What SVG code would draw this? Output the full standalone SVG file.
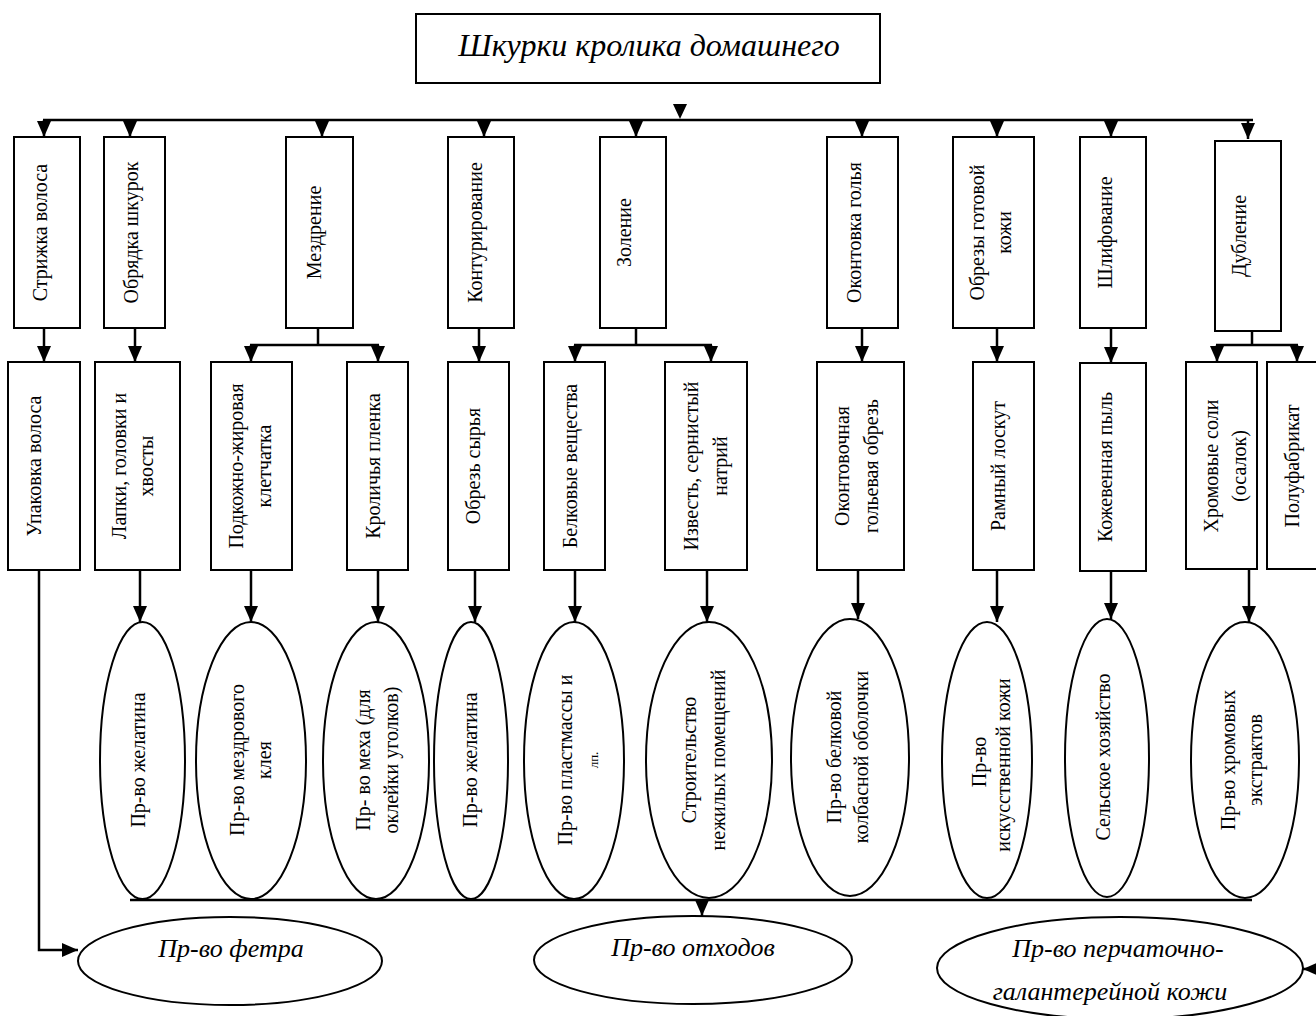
<svg xmlns="http://www.w3.org/2000/svg" width="1316" height="1016" viewBox="0 0 1316 1016">
<style>
text{font-family:"Liberation Serif","Times New Roman",serif;fill:#000}
.v{font-size:20px;text-anchor:middle}
.it{font-style:italic;text-anchor:middle}
.box{fill:#fff;stroke:#000;stroke-width:2}
.ell{fill:#fff;stroke:#000;stroke-width:2}
.ln{fill:none;stroke:#000;stroke-width:2.5}
.ar{fill:none;stroke:#000;stroke-width:2.5;marker-end:url(#ah)}
</style>
<defs>
<marker id="ah" viewBox="0 0 16 14" refX="16" refY="7" markerWidth="16" markerHeight="14" markerUnits="userSpaceOnUse" orient="auto">
<path d="M0,0 L16,7 L0,14 z" fill="#000"/>
</marker>
</defs>
<rect width="1316" height="1016" fill="#fff"/>

<g id="connectors">
<polygon points="673,104 687,104 680,119" fill="#000"/>
<line class="ln" x1="43" y1="120" x2="1253" y2="120"/>
<line class="ar" x1="44" y1="120" x2="44" y2="137"/>
<line class="ar" x1="130" y1="120" x2="130" y2="137"/>
<line class="ar" x1="322" y1="120" x2="322" y2="137"/>
<line class="ar" x1="484" y1="120" x2="484" y2="137"/>
<line class="ar" x1="636" y1="120" x2="636" y2="137"/>
<line class="ar" x1="862" y1="120" x2="862" y2="137"/>
<line class="ar" x1="997" y1="120" x2="997" y2="137"/>
<line class="ar" x1="1111" y1="120" x2="1111" y2="137"/>
<line class="ar" x1="1248" y1="120" x2="1248" y2="139"/>

<line class="ar" x1="44" y1="328" x2="44" y2="362"/>
<line class="ar" x1="135" y1="328" x2="135" y2="362"/>
<line class="ln" x1="318" y1="328" x2="318" y2="345"/>
<line class="ln" x1="250" y1="345" x2="379" y2="345"/>
<line class="ar" x1="251" y1="345" x2="251" y2="362"/>
<line class="ar" x1="378" y1="345" x2="378" y2="362"/>
<line class="ar" x1="479" y1="328" x2="479" y2="362"/>
<line class="ln" x1="636" y1="328" x2="636" y2="345"/>
<line class="ln" x1="574" y1="345" x2="712" y2="345"/>
<line class="ar" x1="575" y1="345" x2="575" y2="362"/>
<line class="ar" x1="711" y1="345" x2="711" y2="362"/>
<line class="ar" x1="862" y1="328" x2="862" y2="362"/>
<line class="ar" x1="997" y1="328" x2="997" y2="362"/>
<line class="ar" x1="1111" y1="328" x2="1111" y2="363"/>
<line class="ln" x1="1252" y1="331" x2="1252" y2="345"/>
<line class="ln" x1="1216" y1="345" x2="1298" y2="345"/>
<line class="ar" x1="1217" y1="345" x2="1217" y2="362"/>
<line class="ar" x1="1297" y1="345" x2="1297" y2="362"/>

<polyline class="ar" points="39,570 39,950 78,950"/>
<line class="ar" x1="140" y1="570" x2="140" y2="622"/>
<line class="ar" x1="251" y1="570" x2="251" y2="622"/>
<line class="ar" x1="378" y1="570" x2="378" y2="622"/>
<line class="ar" x1="475" y1="570" x2="475" y2="622"/>
<line class="ar" x1="575" y1="570" x2="575" y2="622"/>
<line class="ar" x1="707" y1="570" x2="707" y2="622"/>
<line class="ar" x1="858" y1="570" x2="858" y2="619"/>
<line class="ar" x1="997" y1="570" x2="997" y2="622"/>
<line class="ar" x1="1111" y1="571" x2="1111" y2="619"/>
<line class="ar" x1="1249" y1="567" x2="1249" y2="622"/>

<line class="ln" x1="130" y1="900" x2="1252" y2="900"/>
<line class="ar" x1="702" y1="900" x2="702" y2="916"/>
<line class="ar" x1="1322" y1="969" x2="1303" y2="969"/>
</g>

<g id="n-title">
<rect class="box" x="416" y="14" width="464" height="69"/>
<text class="it" x="649" y="56" font-size="32">Шкурки кролика домашнего</text>
</g>

<g id="n-strizhka"><rect class="box" x="14" y="137" width="66" height="191"/>
<text class="v" transform="translate(47,232.5) rotate(-90)">Стрижка волоса</text></g>
<g id="n-obryadka"><rect class="box" x="104" y="137" width="61" height="191"/>
<text class="v" transform="translate(138,232.5) rotate(-90)">Обрядка шкурок</text></g>
<g id="n-mezdrenie"><rect class="box" x="286" y="137" width="67" height="191"/>
<text class="v" transform="translate(321,232.5) rotate(-90)">Мездрение</text></g>
<g id="n-kontur"><rect class="box" x="448" y="137" width="66" height="191"/>
<text class="v" transform="translate(482,232.5) rotate(-90)">Контурирование</text></g>
<g id="n-zolenie"><rect class="box" x="600" y="137" width="66" height="191"/>
<text class="v" transform="translate(631,232.5) rotate(-90)">Золение</text></g>
<g id="n-okontovka"><rect class="box" x="827" y="137" width="71" height="191"/>
<text class="v" transform="translate(861,232.5) rotate(-90)">Оконтовка голья</text></g>
<g id="n-obrezy"><rect class="box" x="953" y="137" width="81" height="191"/>
<text class="v" transform="translate(984,232.5) rotate(-90)"><tspan x="0" y="0">Обрезы готовой</tspan><tspan x="0" y="27">кожи</tspan></text></g>
<g id="n-shlif"><rect class="box" x="1080" y="137" width="66" height="191"/>
<text class="v" transform="translate(1112,232.5) rotate(-90)">Шлифование</text></g>
<g id="n-dublenie"><rect class="box" x="1215" y="141" width="66" height="190"/>
<text class="v" transform="translate(1246,236) rotate(-90)">Дубление</text></g>

<g id="n-upakovka"><rect class="box" x="8" y="362" width="72" height="208"/>
<text class="v" transform="translate(41,466) rotate(-90)">Упаковка волоса</text></g>
<g id="n-lapki"><rect class="box" x="95" y="362" width="85" height="208"/>
<text class="v" transform="translate(126,466) rotate(-90)"><tspan x="0" y="0">Лапки, головки и</tspan><tspan x="0" y="27">хвосты</tspan></text></g>
<g id="n-podkozh"><rect class="box" x="211" y="362" width="81" height="208"/>
<text class="v" transform="translate(243,466) rotate(-90)"><tspan x="0" y="0">Подкожно-жировая</tspan><tspan x="0" y="28">клетчатка</tspan></text></g>
<g id="n-krol"><rect class="box" x="347" y="362" width="61" height="208"/>
<text class="v" transform="translate(380,466) rotate(-90)">Кроличья пленка</text></g>
<g id="n-obrez"><rect class="box" x="448" y="362" width="61" height="208"/>
<text class="v" transform="translate(480,466) rotate(-90)">Обрезь сырья</text></g>
<g id="n-belk"><rect class="box" x="544" y="362" width="61" height="208"/>
<text class="v" transform="translate(577,466) rotate(-90)">Белковые вещества</text></g>
<g id="n-izvest"><rect class="box" x="665" y="362" width="82" height="208"/>
<text class="v" transform="translate(698,466) rotate(-90)"><tspan x="0" y="0">Известь, сернистый</tspan><tspan x="0" y="29">натрий</tspan></text></g>
<g id="n-okontovoch"><rect class="box" x="817" y="362" width="87" height="208"/>
<text class="v" transform="translate(849,466) rotate(-90)"><tspan x="0" y="0">Оконтовочная</tspan><tspan x="0" y="29">гольевая обрезь</tspan></text></g>
<g id="n-ramny"><rect class="box" x="973" y="362" width="61" height="208"/>
<text class="v" transform="translate(1005,466) rotate(-90)">Рамный лоскут</text></g>
<g id="n-pyl"><rect class="box" x="1080" y="363" width="66" height="208"/>
<text class="v" transform="translate(1112,467) rotate(-90)">Кожевенная пыль</text></g>
<g id="n-khrom"><rect class="box" x="1186" y="362" width="71" height="207"/>
<text class="v" transform="translate(1218,466) rotate(-90)"><tspan x="0" y="0">Хромовые соли</tspan><tspan x="0" y="28">(осалок)</tspan></text></g>
<g id="n-polufab"><rect class="box" x="1267" y="362" width="60" height="207"/>
<text class="v" transform="translate(1299,466) rotate(-90)">Полуфабрикат</text></g>

<g id="e-zhelatin1"><ellipse class="ell" cx="142.5" cy="760.5" rx="42.5" ry="138.5"/>
<text class="v" transform="translate(145,760) rotate(-90)">Пр-во желатина</text></g>
<g id="e-kley"><ellipse class="ell" cx="251" cy="760.5" rx="55" ry="138.5"/>
<text class="v" transform="translate(244,760) rotate(-90)"><tspan x="0" y="0">Пр-во мездрового</tspan><tspan x="0" y="27">клея</tspan></text></g>
<g id="e-meh"><ellipse class="ell" cx="376" cy="760.5" rx="53" ry="138.5"/>
<text class="v" transform="translate(370,760) rotate(-90)"><tspan x="0" y="0">Пр- во меха (для</tspan><tspan x="0" y="28">оклейки уголков)</tspan></text></g>
<g id="e-zhelatin2"><ellipse class="ell" cx="471" cy="760.5" rx="37" ry="138.5"/>
<text class="v" transform="translate(477,760) rotate(-90)">Пр-во желатина</text></g>
<g id="e-plast"><ellipse class="ell" cx="574" cy="760.5" rx="50" ry="138.5"/>
<text class="v" transform="translate(572,760) rotate(-90)">Пр-во пластмассы и</text>
<text transform="translate(598,760) rotate(-90)" font-size="13" text-anchor="middle">лп.</text></g>
<g id="e-stroit"><ellipse class="ell" cx="709" cy="760" rx="63" ry="138"/>
<text class="v" transform="translate(696,760) rotate(-90)"><tspan x="0" y="0">Строительство</tspan><tspan x="0" y="29">нежилых помещений</tspan></text></g>
<g id="e-kolbas"><ellipse class="ell" cx="850" cy="757.5" rx="59" ry="138.5"/>
<text class="v" transform="translate(841,757) rotate(-90)"><tspan x="0" y="0">Пр-во белковой</tspan><tspan x="0" y="27">колбасной оболочки</tspan></text></g>
<g id="e-iskkozh"><ellipse class="ell" cx="987" cy="760" rx="45" ry="138"/>
<text class="v" transform="translate(986,762) rotate(-90)">Пр-во</text>
<text class="v" transform="translate(1010,765) rotate(-90)" font-size="19">искусственной  кожи</text></g>
<g id="e-selkhoz"><ellipse class="ell" cx="1107" cy="758" rx="42" ry="139"/>
<text class="v" transform="translate(1110,757) rotate(-90)">Сельское хозяйство</text></g>
<g id="e-khromextr"><ellipse class="ell" cx="1245" cy="760" rx="54" ry="138"/>
<text class="v" transform="translate(1235,760) rotate(-90)"><tspan x="0" y="0">Пр-во хромовых</tspan><tspan x="0" y="27">экстрактов</tspan></text></g>

<g id="e-fetr"><ellipse class="ell" cx="230" cy="961" rx="152" ry="44"/>
<text class="it" x="231" y="957" font-size="26">Пр-во фетра</text></g>
<g id="e-othody"><ellipse class="ell" cx="693" cy="960" rx="159" ry="44"/>
<text class="it" x="693" y="956" font-size="26">Пр-во отходов</text></g>
<g id="e-perchat"><ellipse class="ell" cx="1120" cy="968" rx="183" ry="51"/>
<text class="it" x="1118" y="957" font-size="26">Пр-во перчаточно-</text>
<text class="it" x="1110" y="1000" font-size="26">галантерейной кожи</text></g>
</svg>
